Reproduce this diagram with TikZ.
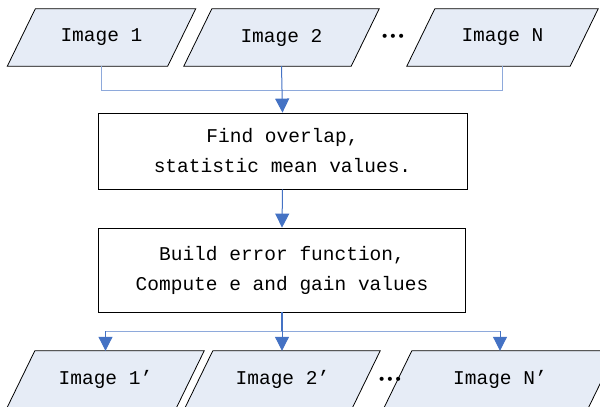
\documentclass[tikz,border=0pt]{standalone}
\usepackage{fontspec}
\setmainfont{Liberation Mono}
\newfontfamily\dejavu{DejaVu Sans}
\usetikzlibrary{arrows.meta,calc}
\pgfdeclarelayer{bg}
\pgfsetlayers{bg,main}
\definecolor{parafill}{RGB}{230,236,246}
\definecolor{lineblue}{RGB}{68,114,196}
\definecolor{thinblue}{RGB}{142,169,219}
\begin{document}
\begin{tikzpicture}[x=1pt,y=-1pt, font=\fontsize{19.5}{30}\selectfont,
 para/.style={rectangle, minimum height=57pt, inner sep=0pt},
 parashape/.style={draw=black, line width=0.8pt, fill=parafill},
 proc/.style={rectangle, draw=black, line width=0.8pt, fill=white, align=center, inner sep=0pt},
 link/.style={draw=thinblue, line width=1pt},
 arr/.style={draw=lineblue, line width=1pt, -{Triangle[width=14pt,length=14pt]}},
 dotsty/.style={font=\dejavu\fontsize{14}{14}\selectfont, inner sep=0pt}]
\useasboundingbox (0,0) rectangle (600,407);
\node[para, minimum width=160pt] (in1) at (101.5,37.5) {Image 1};
\node[para, minimum width=167pt] (in2) at (281.5,37.5) {Image 2};
\node[para, minimum width=163pt] (inN) at (502.5,37.5) {Image N};
\node[dotsty] (dots1) at (393,38) {•••};
\node[proc, minimum width=369pt, minimum height=76pt] (box1) at (282.5,151) {Find overlap,\\statistic mean values.};
\node[proc, minimum width=367pt, minimum height=84pt] (box2) at (282,270) {Build error function,\\Compute e and gain values};
\node[para, minimum width=169pt] (out1) at (105.5,379.5) {Image 1'};
\node[para, minimum width=167pt] (out2) at (282.5,379.5) {Image 2'};
\node[para, minimum width=204pt] (outN) at (500,379.5) {Image N'};
\node[dotsty] (dots2) at (390,381) {•••};
\begin{pgfonlayer}{bg}
\foreach \n in {in1,in2,inN,out1,out2,outN}
  \filldraw[parashape] ([xshift=14pt]\n.north west) -- ([xshift=14pt]\n.north east)
     -- ([xshift=-14pt]\n.south east) -- ([xshift=-14pt]\n.south west) -- cycle;
\end{pgfonlayer}
\coordinate (topbus) at ($(in2.south)+(0,24)$);
\draw[link] (in1.south) |- (topbus) -| (inN.south);
\draw[arr] (in2.south) -- (box1.north);
\draw[arr] (box1.south) -- (box2.north);
\coordinate (botbus) at ($(box2.south)+(0,19)$);
\draw[draw=lineblue, line width=1.5pt] (box2.south) -- (botbus);
\draw[link] (out1.north |- botbus) -- (outN.north |- botbus);
\draw[arr] (out1.north |- botbus) -- (out1.north);
\draw[arr] (outN.north |- botbus) -- (outN.north);
\draw[arr] (botbus) -- (botbus |- out2.north);
\end{tikzpicture}
\end{document}
